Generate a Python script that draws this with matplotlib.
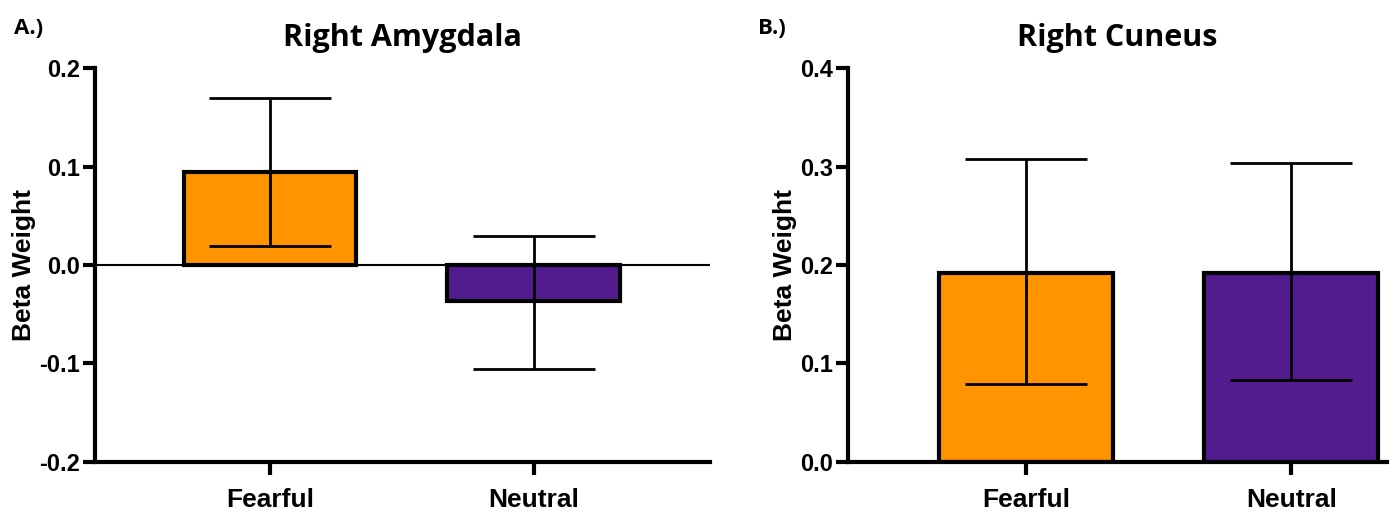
import numpy as np
import matplotlib
matplotlib.use('Agg')
import matplotlib.pyplot as plt

# data
conditions = ['Fearful', 'Neutral']
bar_colors = ['#FF9400', '#521C8F']

amygdala_mean = [0.094, -0.037]
amygdala_err_low = [0.075, 0.069]
amygdala_err_high = [0.076, 0.066]

cuneus_mean = [0.192, 0.192]
cuneus_err_low = [0.113, 0.109]
cuneus_err_high = [0.116, 0.112]

plt.rcParams['font.family'] = ['Liberation Sans', 'DejaVu Sans']

fig = plt.figure(figsize=(13.91, 5.16), dpi=100)


def draw_panel(ax, means, err_low, err_high, ylim, yticks, xlim, title):
    x = np.arange(len(conditions))
    ax.bar(x, means, width=0.655, color=bar_colors, edgecolor='black',
           linewidth=3, zorder=2)
    ax.errorbar(x, means, yerr=[err_low, err_high], fmt='none',
                ecolor='black', elinewidth=2, capsize=44, capthick=2,
                zorder=3)
    ax.set_xlim(*xlim)
    ax.set_ylim(*ylim)
    ax.set_yticks(yticks)
    ax.set_yticklabels(['%.1f' % t for t in yticks], fontsize=17,
                       fontweight='bold')
    ax.set_xticks(x)
    ax.set_xticklabels(conditions, fontsize=19, fontweight='bold')
    ax.tick_params(axis='both', width=3, length=9, direction='out', pad=2)
    ax.tick_params(axis='x', pad=10)
    ax.spines['top'].set_visible(False)
    ax.spines['right'].set_visible(False)
    ax.spines['left'].set_linewidth(3)
    ax.spines['bottom'].set_linewidth(3)
    ax.set_ylabel('Beta Weight', fontsize=19, fontweight='bold', labelpad=2)
    ax.set_title(title, fontsize=22, fontweight='bold', family='Open Sans',
                 pad=16)


ax1 = fig.add_axes([0.0683, 0.1047, 0.4421, 0.7635])
draw_panel(ax1, amygdala_mean, amygdala_err_low, amygdala_err_high,
           (-0.2, 0.2), [-0.2, -0.1, 0.0, 0.1, 0.2], (-0.663, 1.667),
           'Right Amygdala')
ax1.axhline(0, color='black', linewidth=1.5, zorder=1)

ax2 = fig.add_axes([0.6096, 0.1047, 0.3874, 0.7635])
draw_panel(ax2, cuneus_mean, cuneus_err_low, cuneus_err_high,
           (0.0, 0.4), [0.0, 0.1, 0.2, 0.3, 0.4], (-0.67, 1.36),
           'Right Cuneus')

fig.text(0.010, 0.945, 'A.)', fontsize=16, fontweight='bold',
         family='Open Sans', va='center')
fig.text(0.545, 0.945, 'B.)', fontsize=16, fontweight='bold',
         family='Open Sans', va='center')

fig.savefig('out.png', dpi=100)
